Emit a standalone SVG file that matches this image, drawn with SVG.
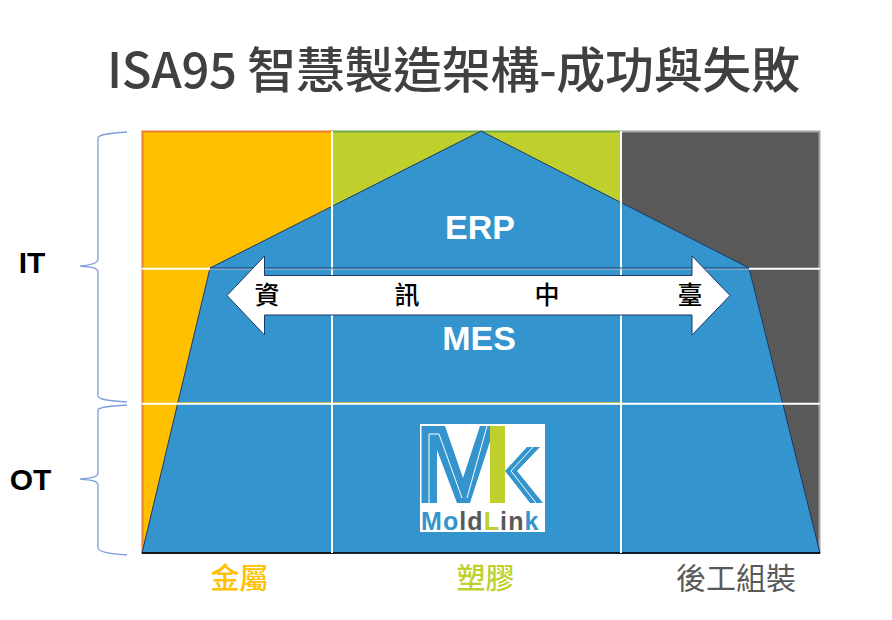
<svg xmlns="http://www.w3.org/2000/svg" width="892" height="620" viewBox="0 0 892 620">
<style>
.cjk{font-family:"Noto Sans CJK TC","Noto Sans",sans-serif}
.lat{font-family:"Liberation Sans",Arial,sans-serif;font-weight:700}
.ws{stroke:#fff;stroke-width:2;fill:none}
.brace{fill:none;stroke:#7f9fdc;stroke-width:1.3}
.c{text-anchor:middle}
.lg{fill:#3494cd}
</style>
<rect width="892" height="620" fill="#fff"/>
<text id="title" x="107" y="88" class="cjk" font-size="49" font-weight="500" fill="#404040" textLength="693">ISA95 智慧製造架構-成功與失敗</text>
<g id="columns">
<rect x="142.500" y="131.500" width="189.500" height="421.500" fill="#ffc000" stroke="#ed7d31" stroke-width="2"/>
<rect x="332" y="131.500" width="289" height="273" fill="#bfd02c" stroke="#70ad47" stroke-width="2"/>
<rect x="621" y="131.500" width="198.500" height="421.500" fill="#595959" stroke="#a5a5a5" stroke-width="2"/>
</g>
<g id="pyramid">
<path d="M481 131L749 268L820 553H142L210 268Z" fill="#3494cd" stroke="#1f3864" stroke-width="1"/>
<path d="M142 553H820" stroke="#000" stroke-width="1.500"/>
<path d="M178 402.500H621" stroke="#a8a820" stroke-width="1.200"/>
</g>
<g id="connectors">
<path class="ws" d="M142 268.700H210M749 268.700H820M142 403.800H820M332 131V553M621 131V553"/>
<path d="M210 268H749" stroke="#1f3864" stroke-width="1"/>
<path d="M210 269.200H749" stroke="#9cb6d6" stroke-width="1"/>
<path class="brace" d="M127 132C112 133 98 134 98 138V259C98 263 92 265 80 266C92 267 98 268 98 272V396C98 400 112 401 127 402"/>
<path class="brace" d="M127 405C112 406 98 407 98 410V473C98 477 92 478 80 479C92 480 98 481 98 485V548C98 552 112 554 127 555"/>
</g>
<g id="arrow">
<path d="M227 295.500L264.500 256V275.500H692V256L730 295.500L692 335V315H264.500V335Z" fill="#fff" stroke="#1f3864" stroke-width="1"/>
<text x="267" y="304" class="cjk c" font-size="25" font-weight="500" fill="#000">資</text>
<text x="407" y="304" class="cjk c" font-size="25" font-weight="500" fill="#000">訊</text>
<text x="547" y="304" class="cjk c" font-size="25" font-weight="500" fill="#000">中</text>
<text x="690" y="304" class="cjk c" font-size="25" font-weight="500" fill="#000">臺</text>
</g>
<g id="it"><text x="32" y="273" class="lat c" font-size="30" fill="#000">IT</text></g>
<g id="ot"><text x="30.500" y="490" class="lat c" font-size="30" fill="#000">OT</text></g>
<g id="erp"><text x="480" y="239" class="lat c" font-size="34" fill="#fff">ERP</text></g>
<g id="mes"><text x="479" y="350" class="lat c" font-size="34" fill="#fff">MES</text></g>
<g id="logo">
<rect x="420" y="424" width="125" height="108" fill="#fff"/>
<path class="lg" d="M421.500 503V426H445L463 478L480 426H495L470 503H457L437 450V503Z"/>
<path d="M429 503V434H439L462 498M487 426L467 498" fill="none" stroke="#fff" stroke-width="1"/>
<rect x="490" y="426" width="15" height="77" fill="#bfd02c"/>
<path class="lg" d="M505 471L527 447H540L517 471L543 503H530Z"/>
<path d="M533 447L511 471L536 503" fill="none" stroke="#fff" stroke-width="1"/>
<text y="530" class="lat" font-size="25" letter-spacing="1.100"><tspan x="421" fill="#3494cd">Mo</tspan><tspan fill="#595959">ld</tspan><tspan fill="#bfd02c">L</tspan><tspan fill="#595959">in</tspan><tspan fill="#3494cd">k</tspan></text>
</g>
<g id="metal"><text x="239.500" y="589" class="cjk c" font-size="29" font-weight="500" fill="#ffc000">金屬</text></g>
<g id="plastic"><text x="485.500" y="589" class="cjk c" font-size="29" font-weight="500" fill="#bfd02c">塑膠</text></g>
<g id="assembly"><text x="736" y="589" class="cjk c" font-size="30" font-weight="400" fill="#595959">後工組裝</text></g>
</svg>
